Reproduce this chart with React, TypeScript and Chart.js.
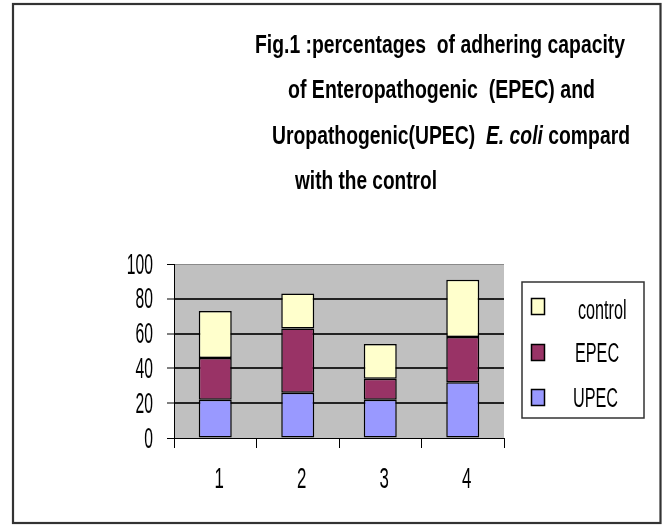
import React, { useEffect, useRef } from "react";
import { Chart, registerables } from "chart.js";

Chart.register(...registerables);

const categories = ["1", "2", "3", "4"];
const seriesNames = ["UPEC", "EPEC", "control"];
const upec = [22, 26, 22, 32];
const epec = [24, 37, 12, 26];
const control = [27, 20, 20, 33];
const yTickValues = [0, 20, 40, 60, 80, 100];
const titleLines = [
  [{ t: "Fig.1 :percentages  of adhering capacity", i: false }],
  [{ t: "of Enteropathogenic  (EPEC) and", i: false }],
  [
    { t: "Uropathogenic(UPEC)  ", i: false },
    { t: "E. coli", i: true },
    { t: " compard", i: false },
  ],
  [{ t: "with the control", i: false }],
];

const FAM = '"Liberation Sans", Arial, sans-serif';

function drawFit(ctx: CanvasRenderingContext2D, parts: { t: string; i: boolean }[], left: number, right: number, baseline: number, size: number) {
  let total = 0;
  const widths: number[] = [];
  for (const p of parts) {
    ctx.font = `${p.i ? "italic " : ""}bold ${size}px ${FAM}`;
    const w = ctx.measureText(p.t).width;
    widths.push(w);
    total += w;
  }
  const sx = (right - left) / total;
  ctx.save();
  ctx.translate(left, baseline);
  ctx.scale(sx, 1);
  ctx.textAlign = "left";
  ctx.textBaseline = "alphabetic";
  ctx.fillStyle = "#000";
  let x = 0;
  parts.forEach((p, k) => {
    ctx.font = `${p.i ? "italic " : ""}bold ${size}px ${FAM}`;
    ctx.fillText(p.t, x, 0);
    x += widths[k];
  });
  ctx.restore();
}

function drawNarrow(ctx: CanvasRenderingContext2D, text: string, x: number, baseline: number, size: number, sx: number, align: CanvasTextAlign) {
  ctx.save();
  ctx.translate(x, baseline);
  ctx.scale(sx, 1);
  ctx.font = `${size}px ${FAM}`;
  ctx.textAlign = align;
  ctx.textBaseline = "alphabetic";
  ctx.fillStyle = "#000";
  ctx.fillText(text, 0, 0);
  ctx.restore();
}

const decorPlugin = {
  id: "decor",
  beforeDraw(chart: any) {
    const { ctx, chartArea } = chart;
    ctx.save();
    ctx.fillStyle = "#ffffff";
    ctx.fillRect(0, 0, chart.width, chart.height);
    ctx.fillStyle = "#C0C0C0";
    ctx.fillRect(chartArea.left, chartArea.top, chartArea.right - chartArea.left, chartArea.bottom - chartArea.top);
    ctx.restore();
  },
  afterDraw(chart: any) {
    const { ctx } = chart;
    const ys = chart.scales.y;
    const xs = chart.scales.x;
    yTickValues.forEach((v) => {
      const py = ys.getPixelForValue(v);
      drawNarrow(ctx, String(v), 153, py + 9.5, 29, 0.54, "right");
    });
    categories.forEach((c, i) => {
      const px = xs.getPixelForValue(i);
      drawNarrow(ctx, c, px + 4, 488, 29, 0.58, "center");
    });
    const bounds = [
      [255, 625, 52.5],
      [288, 595, 98],
      [272, 630, 143.5],
      [295, 437, 188.5],
    ];
    titleLines.forEach((parts, k) => {
      drawFit(ctx, parts, bounds[k][0], bounds[k][1], bounds[k][2], 26);
    });
    ctx.save();
    ctx.strokeStyle = "#333";
    ctx.lineWidth = 1.5;
    ctx.strokeRect(522, 282, 122, 136);
    const ds = chart.data.datasets;
    const items = [
      { d: ds[2], sy: 298, tx: 578, ty: 318.5 },
      { d: ds[1], sy: 344, tx: 575, ty: 362 },
      { d: ds[0], sy: 389, tx: 573, ty: 406.5 },
    ];
    items.forEach((it) => {
      ctx.fillStyle = it.d.backgroundColor;
      ctx.fillRect(531, it.sy, 14, 17);
      ctx.strokeStyle = "#000";
      ctx.lineWidth = 1.5;
      ctx.strokeRect(531.5, it.sy + 0.5, 13, 16);
      drawNarrow(ctx, it.d.label, it.tx, it.ty, 27, 0.6, "left");
    });
    ctx.strokeStyle = "#333";
    ctx.lineWidth = 2.2;
    ctx.strokeRect(13, 4, 647.5, 519);
    ctx.restore();
  },
};

export default function App() {
  const ref = useRef<HTMLCanvasElement | null>(null);
  useEffect(() => {
    document.body.style.margin = "0";
    if (!ref.current) return;
    const chart = new Chart(ref.current, {
      type: "bar",
      data: {
        labels: categories,
        datasets: [
          { label: seriesNames[0], data: upec, backgroundColor: "#9999FF", borderColor: "#000", borderWidth: 1.5, borderSkipped: false },
          { label: seriesNames[1], data: epec, backgroundColor: "#993366", borderColor: "#000", borderWidth: 1.5, borderSkipped: false },
          { label: seriesNames[2], data: control, backgroundColor: "#FFFFCC", borderColor: "#000", borderWidth: 1.5, borderSkipped: false },
        ],
      },
      options: {
        responsive: false,
        animation: false,
        devicePixelRatio: 1,
        layout: { padding: { top: 264, right: 159, left: 0, bottom: 0 } },
        plugins: { legend: { display: false }, title: { display: false }, tooltip: { enabled: false } },
        datasets: { bar: { barPercentage: 0.4, categoryPercentage: 1 } },
        scales: {
          x: {
            stacked: true,
            grid: { display: true, drawOnChartArea: false, drawTicks: true, tickLength: 10, color: "#000", offset: true },
            border: { display: true, color: "#000", width: 1 },
            ticks: { display: false },
            afterFit: (s: any) => {
              s.height = 87;
            },
          },
          y: {
            stacked: true,
            min: 0,
            max: 100,
            ticks: { display: false, stepSize: 20 },
            grid: {
              color: (c: any) => (c.tick && c.tick.value === 100 ? "#8a8a8a" : "#222"),
              lineWidth: (c: any) => (c.tick && (c.tick.value === 100 || c.tick.value === 0) ? 1 : 2),
              tickLength: 7,
              tickColor: "#000",
              tickWidth: 1,
            },
            border: { display: true, color: "#000", width: 1 },
            afterFit: (s: any) => {
              s.width = 174;
            },
          },
        },
      } as any,
      plugins: [decorPlugin],
    });
    return () => chart.destroy();
  }, []);
  return <canvas ref={ref} width={663} height={525} style={{ display: "block" }} />;
}
